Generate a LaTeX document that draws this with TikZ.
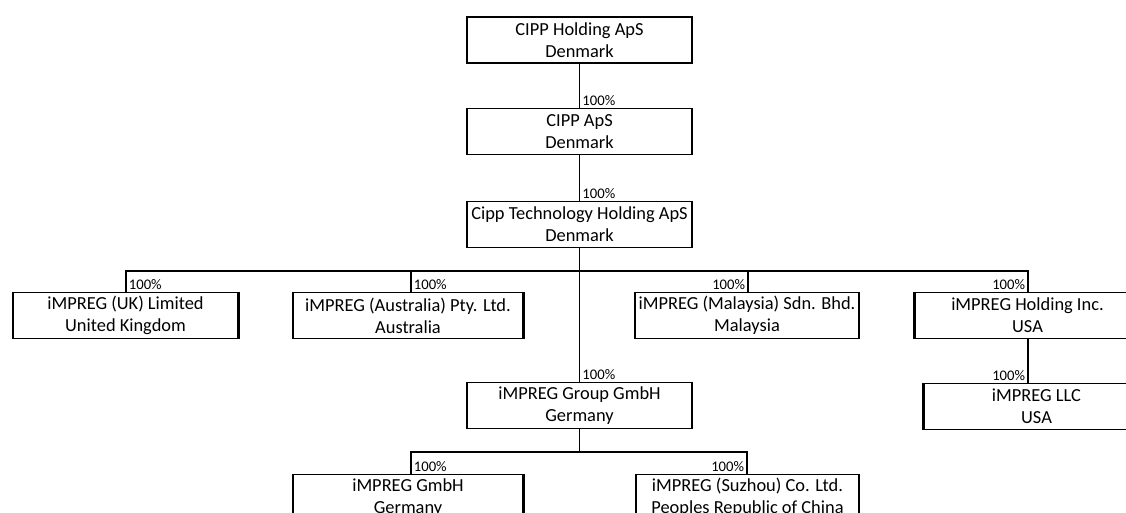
\documentclass[tikz,border=0pt]{standalone}
\usepackage{fontspec}
\setmainfont{Carlito}
\begin{document}
\begin{tikzpicture}[x=0.75pt,y=-0.75pt,
  box/.style={draw, line width=1.1pt, minimum width=#1*0.75pt, minimum height=46*0.75pt,
    inner sep=0pt, align=center, font=\fontsize{13.8pt}{16.5pt}\selectfont},
  conn/.style={line width=0.8pt},
  bar/.style={line width=1.5pt},
  thick edge/.style={line width=1.6pt},
  pct/.style={inner xsep=2pt, inner ysep=1.5pt, font=\fontsize{11pt}{12pt}\selectfont}]
\useasboundingbox (0,0) rectangle (1126,513);
\clip (0,0) rectangle (1126,513);
\fill[white] (0,0) rectangle (1126,513);
% boxes
\node[box=225] (top) at (579.5,40) {CIPP Holding ApS\\Denmark};
\node[box=225] (cippaps) at (579.5,131.5) {CIPP ApS\\Denmark};
\node[box=225] (tech) at (579.5,224.5) {Cipp Technology Holding ApS\\Denmark};
\node[box=225] (uk) at (125.5,315.5) {iMPREG (UK) Limited\\United Kingdom};
\node[box=230] (aus) at (408,315.5) {iMPREG (Australia) Pty. Ltd.\\Australia};
\node[box=224] (mal) at (747,315.5) {iMPREG (Malaysia) Sdn. Bhd.\\Malaysia};
\node[box=225] (hold) at (1027.5,315.5) {iMPREG Holding Inc.\\USA};
\node[box=225] (llc) at (1036.5,406.5) {iMPREG LLC\\USA};
\node[box=225] (group) at (579.5,405.5) {iMPREG Group GmbH\\Germany};
\node[box=230] (gmbh) at (408,497.5) {iMPREG GmbH\\Germany};
\node[box=223] (suz) at (747.5,497.5) {iMPREG (Suzhou) Co. Ltd.\\Peoples Republic of China};
% thicker cell edges
\draw[thick edge] (uk.north east) -- (uk.south east);
\draw[thick edge] (aus.north east) -- (aus.south east);
\draw[thick edge] (gmbh.north east) -- (gmbh.south east);
\draw[thick edge] (hold.north west) -- (hold.south west);
\draw[thick edge] (llc.north west) -- (llc.south west);
% junction coordinates
\coordinate (b1) at (126,271);
\coordinate (b2) at (411,271);
\coordinate (b3) at (748,271);
\coordinate (b4) at (1028,271);
\coordinate (g1) at (411,452);
\coordinate (g2) at (747,452);
% connectors
\draw[conn] (top.south) -- (cippaps.north);
\draw[conn] (cippaps.south) -- (tech.north);
\draw[conn] (tech.south) -- (group.north);
\draw[bar] (b1 |- uk.north) -- (b1) -- (b4) -- (b4 |- hold.north);
\draw[conn] (b2) -- (b2 |- aus.north);
\draw[conn] (b3) -- (b3 |- mal.north);
\draw[conn] (b4 |- hold.south) -- (b4 |- llc.north);
\draw[conn] (group.south) -- (group.south |- g1);
\draw[bar] (g1 |- gmbh.north) -- (g1) -- (g2) -- (g2 |- suz.north);
% labels
\node[pct, anchor=south west] (p1) at (cippaps.north) {100\%};
\node[pct, anchor=south west] (p2) at (tech.north) {100\%};
\node[pct, anchor=south west] (p3) at (b1 |- uk.north) {100\%};
\node[pct, anchor=south west] (p4) at (b2 |- aus.north) {100\%};
\node[pct, anchor=south east] (p5) at (b3 |- mal.north) {100\%};
\node[pct, anchor=south east] (p6) at (b4 |- hold.north) {100\%};
\node[pct, anchor=south west] (p7) at (group.north) {100\%};
\node[pct, anchor=south east] (p8) at (b4 |- llc.north) {100\%};
\node[pct, anchor=south west] (p9) at (g1 |- gmbh.north) {100\%};
\node[pct, anchor=south east] (p10) at (g2 |- suz.north) {100\%};
\end{tikzpicture}
\end{document}
